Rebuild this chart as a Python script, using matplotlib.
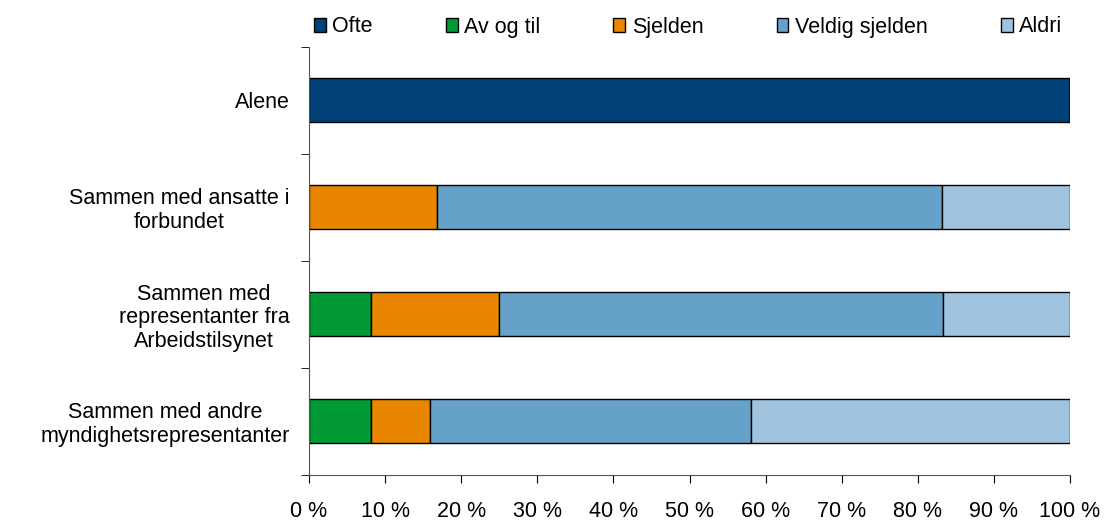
import matplotlib.pyplot as plt
import numpy as np

plt.rcParams['font.family'] = ['Liberation Sans', 'DejaVu Sans']

categories = ["Alene",
              "Sammen med ansatte i\nforbundet",
              "Sammen med\nrepresentanter fra\nArbeidstilsynet",
              "Sammen med andre\nmyndighetsrepresentanter"]
series = ["Ofte", "Av og til", "Sjelden", "Veldig sjelden", "Aldri"]
ofte = [100.0, 0.0, 0.0, 0.0]
av_og_til = [0.0, 0.0, 8.1, 8.1]
sjelden = [0.0, 16.8, 16.9, 7.8]
veldig_sjelden = [0.0, 66.4, 58.3, 42.2]
aldri = [0.0, 16.8, 16.7, 41.9]
values = [ofte, av_og_til, sjelden, veldig_sjelden, aldri]
colors = ["#003F78", "#009933", "#E88600", "#66A1C9", "#A0C4DF"]

fig = plt.figure(figsize=(11.08, 5.2), dpi=100)
ax = fig.add_axes([309/1108, 1 - 474.5/520, (1070-309)/1108, (474.5-46.5)/520])

y = np.arange(len(categories))
left = np.zeros(len(categories))
handles = []
for name, vals, col in zip(series, values, colors):
    vals = np.array(vals)
    h = ax.barh(y, vals, left=left, height=0.41, color=col,
                edgecolor="black", linewidth=1.0, label=name)
    handles.append(h)
    left += vals

fs = 15.5
ax.set_xlim(0, 100)
ax.set_ylim(3.5, -0.5)
ax.set_xticks(np.arange(0, 101, 10))
ax.set_xticklabels([f"{v} %" for v in range(0, 101, 10)], fontsize=fs)
ax.set_yticks(y)
ax.set_yticklabels(categories, fontsize=fs, linespacing=1.17)
for lab in ax.get_yticklabels():
    lab.set_multialignment("center")
ax.set_yticks(np.arange(-0.5, 4.0, 1.0), minor=True)
ax.tick_params(axis="y", which="major", length=0, pad=14)
ax.tick_params(axis="y", which="minor", length=6, direction="out")
ax.tick_params(axis="x", length=6, direction="out", pad=13)

for s in ["top", "right"]:
    ax.spines[s].set_visible(False)
for s in ["left", "bottom"]:
    ax.spines[s].set_color("#555555")

fig.legend(handles=handles, labels=series, loc="center",
           bbox_to_anchor=(688/1108, 1 - 27/520), ncol=5, frameon=False,
           fontsize=fs, handlelength=0.55, handleheight=0.65,
           handletextpad=0.3, columnspacing=3.4)

fig.savefig("out.png", dpi=100)
